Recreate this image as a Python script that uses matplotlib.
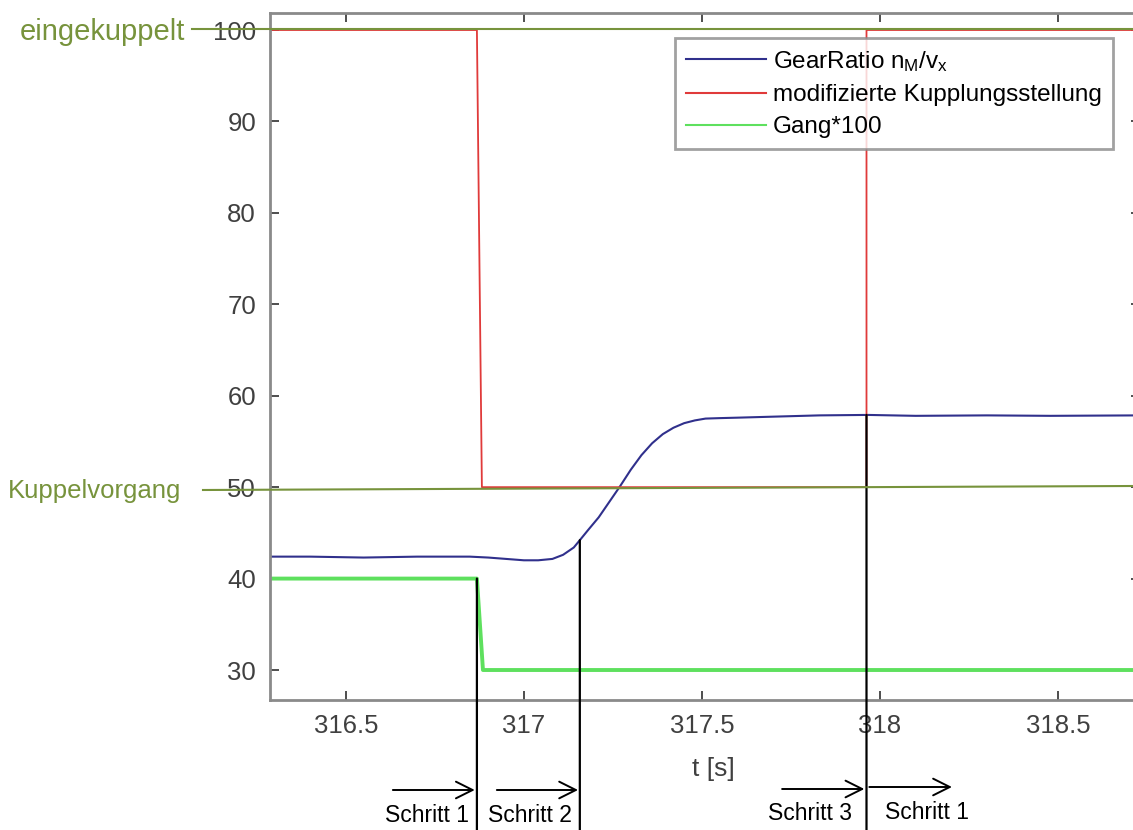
import matplotlib
matplotlib.use("Agg")
import matplotlib.pyplot as plt
from matplotlib.lines import Line2D

plt.rcParams['font.family'] = ['Liberation Sans', 'DejaVu Sans']
plt.rcParams['mathtext.default'] = 'regular'

# Daten
t_gear = [316.287, 316.400, 316.550, 316.700, 316.848, 316.900, 316.950, 317.000,
          317.040, 317.080, 317.110, 317.140, 317.157, 317.180, 317.210, 317.240,
          317.270, 317.300, 317.330, 317.360, 317.390, 317.420, 317.450, 317.480,
          317.510, 317.550, 317.600, 317.691, 317.830, 317.966, 318.100, 318.300,
          318.478, 318.730]
gear_ratio = [42.4, 42.4, 42.3, 42.4, 42.4, 42.3, 42.15, 42.0,
              42.0, 42.15, 42.6, 43.4, 44.2, 45.3, 46.7, 48.4,
              50.1, 51.9, 53.5, 54.8, 55.8, 56.5, 57.0, 57.3,
              57.5, 57.55, 57.6, 57.7, 57.85, 57.9, 57.8, 57.85,
              57.8, 57.85]

t_kupplung = [316.287, 316.868, 316.882, 317.962, 317.962, 318.730]
kupplung = [100, 100, 50, 50, 100, 100]

t_gang = [316.287, 316.868, 316.885, 318.730]
gang = [40, 40, 30, 30]

labels = [r'GearRatio n$_{M}$/v$_{x}$', 'modifizierte Kupplungsstellung', 'Gang*100']

# Schrittwechsel: (Zeit, Wert an dem die Linie beginnt)
schritt_linien = [(316.868, 40), (317.157, 44.2), (317.962, 57.9)]
schritt_pfeile = [(316.632, 316.862), (316.924, 317.152), (317.725, 317.956), (317.970, 318.202)]
schritt_texte = ['Schritt 1', 'Schritt 2', 'Schritt 3', 'Schritt 1']
schritt_text_t = [316.7275, 317.017, 317.803, 318.132]

W, H = 1133, 830
fig = plt.figure(figsize=(W / 100, H / 100), dpi=100)


def fx(px):
    return px / W


def fy(py):
    return 1 - py / H


ax = fig.add_axes([fx(270), fy(700), fx(1140) - fx(270), fy(13) - fy(700)])

ax.plot(t_gear, gear_ratio, color='#30308c', lw=1.5, label=labels[0])
ax.plot(t_kupplung, kupplung, color='#e03a3a', lw=1.3, label=labels[1])
ax.plot(t_gang, gang, color='#5ee05e', lw=2.8, label=labels[2])

ax.set_xlim(316.287, 318.730)
ax.set_ylim(26.72, 101.86)
ax.set_xticks([316.5, 317, 317.5, 318, 318.5])
ax.set_xticklabels(['316.5', '317', '317.5', '318', '318.5'])
ax.set_yticks([30, 40, 50, 60, 70, 80, 90, 100])

ax.tick_params(direction='in', top=True, right=True, length=6.5, width=1.2,
               labelsize=18.5, labelcolor='#404040', color='#303030', pad=10)
for s in ax.spines.values():
    s.set_color('#8a8a8a')
    s.set_linewidth(2)

ax.set_xlabel('t [s]', fontsize=19, color='#404040')
ax.xaxis.set_label_coords((713 - 270) / 870, -0.083)

leg = ax.legend(loc='upper right', bbox_to_anchor=(fx(1113), fy(38)),
                bbox_transform=fig.transFigure, fontsize=17.5, frameon=True,
                fancybox=False, borderaxespad=0, handlelength=3.3,
                handletextpad=0.3, labelspacing=0.42, borderpad=0.45)
leg.get_frame().set_edgecolor('#8a8a8a')
leg.get_frame().set_linewidth(2)
for h in leg.get_lines():
    h.set_linewidth(1.5)

# Markierungen links (gruen)
gruen = '#77933C'
fig.add_artist(Line2D([fx(192), fx(1133)], [fy(29.5), fy(29.5)], color=gruen, lw=1.5))
fig.add_artist(Line2D([fx(203), fx(1133)], [fy(490), fy(486)], color=gruen, lw=1.5))
fig.text(fx(185), fy(32), 'eingekuppelt', color=gruen, fontsize=21, ha='right', va='center')
fig.text(fx(8), fy(491), 'Kuppelvorgang', color=gruen, fontsize=18.5, ha='left', va='center')

# Schritte
for t, v in schritt_linien:
    ax.annotate('', xy=(t, v), xycoords='data', xytext=(t, 0),
                textcoords=('data', 'figure fraction'),
                arrowprops=dict(arrowstyle='-', color='black', lw=1.6,
                                shrinkA=0, shrinkB=0), annotation_clip=False)

pfeil_y = [fy(790), fy(790), fy(789), fy(787)]
for (t0, t1), y in zip(schritt_pfeile, pfeil_y):
    ax.annotate('', xy=(t1, y), xycoords=('data', 'figure fraction'),
                xytext=(t0, y), textcoords=('data', 'figure fraction'),
                arrowprops=dict(arrowstyle='->', color='black', lw=1.4,
                                mutation_scale=30, shrinkA=0, shrinkB=0),
                annotation_clip=False)

text_y = [fy(815), fy(815), fy(813), fy(812)]
for txt, t, y in zip(schritt_texte, schritt_text_t, text_y):
    ax.annotate(txt, xy=(t, y), xycoords=('data', 'figure fraction'),
                ha='center', va='center', fontsize=16.5, color='black',
                annotation_clip=False)

fig.savefig('out.png', dpi=100)
